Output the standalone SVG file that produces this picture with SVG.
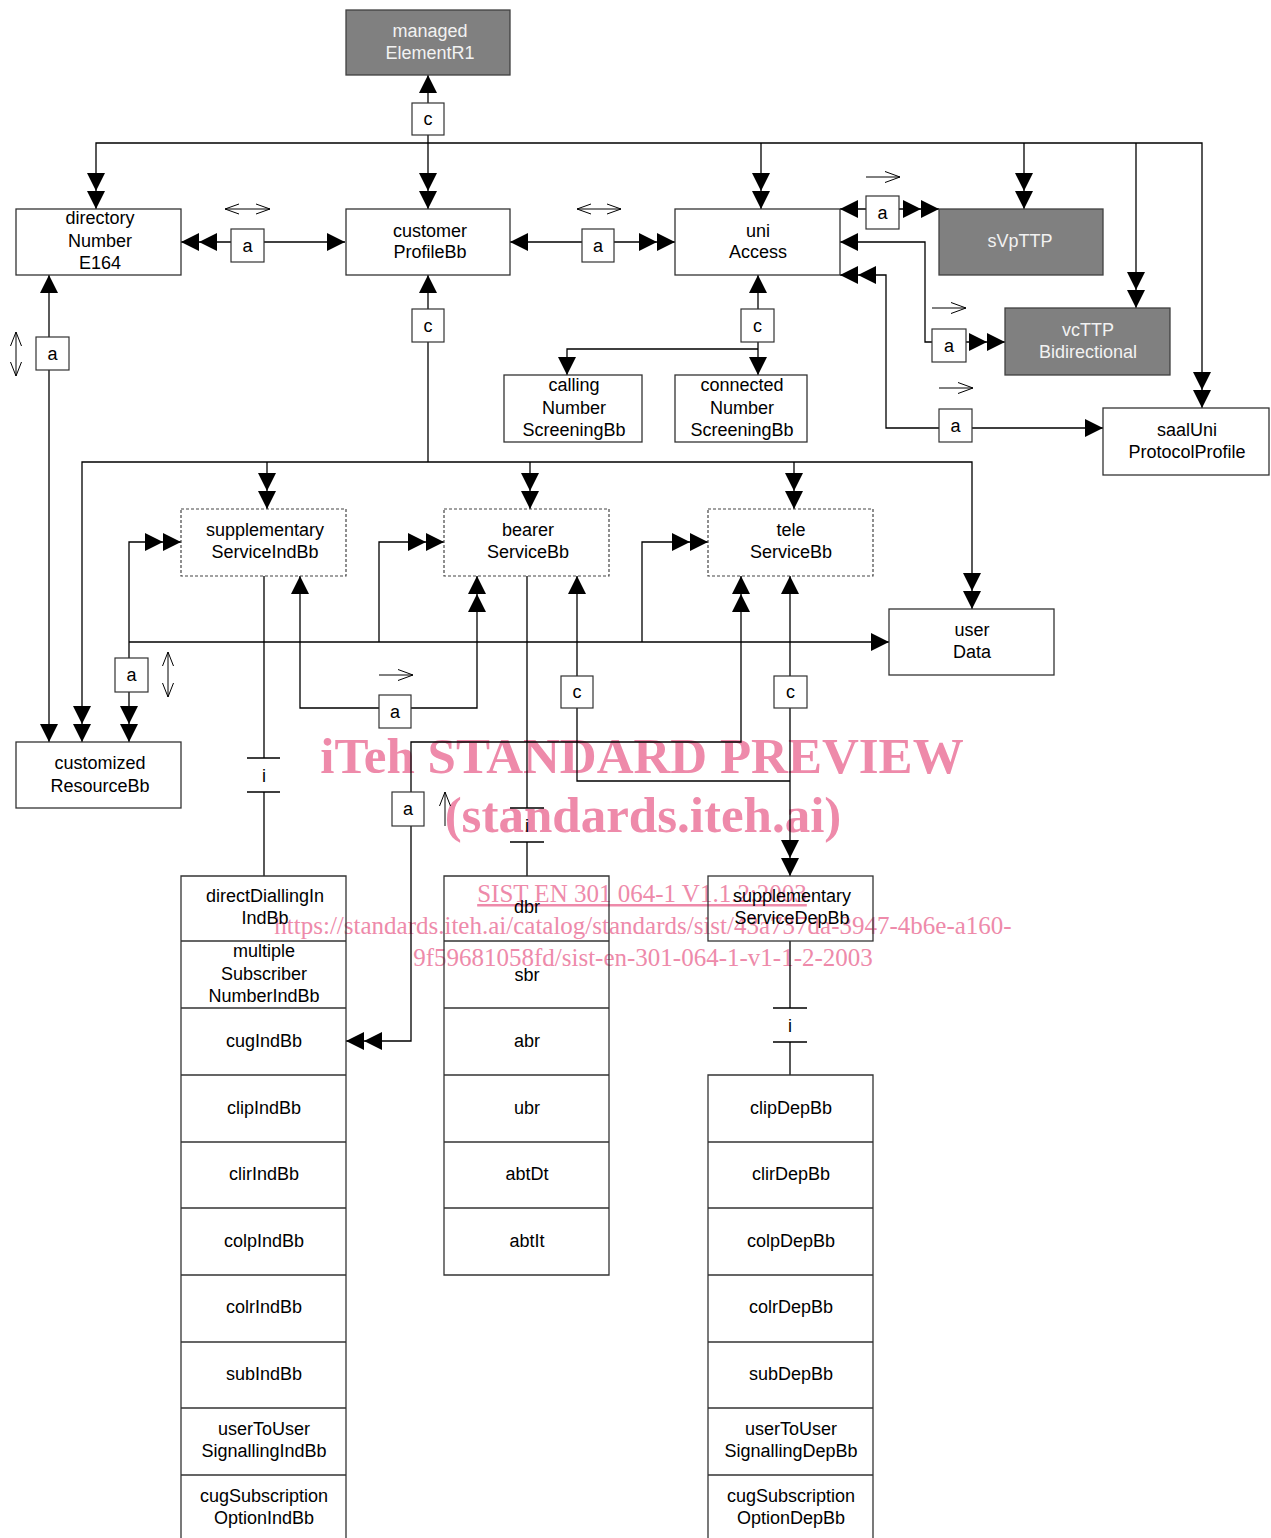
<svg xmlns="http://www.w3.org/2000/svg" width="1271" height="1538" viewBox="0 0 1271 1538">
<style>
.t{font-family:"Liberation Sans",Arial,sans-serif;font-size:18px;text-anchor:middle;fill:#000}
.tw{font-family:"Liberation Sans",Arial,sans-serif;font-size:18px;text-anchor:middle;fill:#f2f2f2}
.box{fill:none;stroke:#333;stroke-width:1.3}
.gbox{fill:#808080;stroke:#404040;stroke-width:1.3}
.dbox{fill:none;stroke:#444;stroke-width:1.2;stroke-dasharray:3,2}
.lbl{fill:#fff;stroke:#333;stroke-width:1.2}
.ln{fill:none;stroke:#000;stroke-width:1.3}
.sym{fill:none;stroke:#000;stroke-width:1}
.wm{font-family:"Liberation Serif","Times New Roman",serif;fill:#ee8aaa;text-anchor:middle}
</style>
<defs>
<marker id="s" markerUnits="userSpaceOnUse" markerWidth="18" markerHeight="18" viewBox="0 0 18 18" refX="18" refY="9" orient="auto-start-reverse"><path d="M0,0 L18,9 L0,18 z" fill="#000"/></marker>
<marker id="d" markerUnits="userSpaceOnUse" markerWidth="36" markerHeight="18" viewBox="0 0 36 18" refX="36" refY="9" orient="auto-start-reverse"><path d="M0,0 L18,9 L0,18 z M18,0 L36,9 L18,18 z" fill="#000"/></marker>
</defs>
<rect x="0" y="0" width="1271" height="1538" fill="#fff"/>

<g id="watermark">
<text class="wm" x="642" y="773" font-size="51" font-weight="bold">iTeh STANDARD PREVIEW</text>
<text class="wm" x="643" y="832" font-size="51" font-weight="bold">(standards.iteh.ai)</text>
<text class="wm" x="642" y="902" font-size="25" text-decoration="underline">SIST EN 301 064-1 V1.1.2:2003</text>
<text class="wm" x="643" y="934" font-size="25">https://standards.iteh.ai/catalog/standards/sist/43a737da-3947-4b6e-a160-</text>
<text class="wm" x="643" y="966" font-size="25">9f59681058fd/sist-en-301-064-1-v1-1-2-2003</text>
</g>

<g id="connectors">
<path class="ln" d="M428,143 V75" marker-end="url(#s)"/>
<path class="ln" d="M428,143 V209" marker-end="url(#d)"/>
<path class="ln" d="M96,209 V143 H1202 V408" marker-start="url(#d)" marker-end="url(#d)"/>
<path class="ln" d="M761,143 V209" marker-end="url(#d)"/>
<path class="ln" d="M1024,143 V209" marker-end="url(#d)"/>
<path class="ln" d="M1136,143 V308" marker-end="url(#d)"/>
<path class="ln" d="M345,242 H181" marker-start="url(#s)" marker-end="url(#d)"/>
<path class="ln" d="M510,242 H675" marker-start="url(#s)" marker-end="url(#d)"/>
<path class="ln" d="M840,209 H939" marker-start="url(#s)" marker-end="url(#d)"/>
<path class="ln" d="M840,242 H925 V342 H1005" marker-start="url(#s)" marker-end="url(#d)"/>
<path class="ln" d="M840,275 H886 V428 H1103" marker-start="url(#d)" marker-end="url(#s)"/>
<path class="ln" d="M758,349 V275" marker-end="url(#s)"/>
<path class="ln" d="M758,349 V375" marker-end="url(#s)"/>
<path class="ln" d="M758,349 H567 V375" marker-end="url(#s)"/>
<path class="ln" d="M49,275 V742" marker-start="url(#s)" marker-end="url(#s)"/>
<path class="ln" d="M428,462 V275" marker-end="url(#s)"/>
<path class="ln" d="M82,742 V462 H972 V609" marker-start="url(#d)" marker-end="url(#d)"/>
<path class="ln" d="M267,462 V509" marker-end="url(#d)"/>
<path class="ln" d="M530,462 V509" marker-end="url(#d)"/>
<path class="ln" d="M794,462 V509" marker-end="url(#d)"/>
<path class="ln" d="M129,742 V542 H181" marker-start="url(#d)" marker-end="url(#d)"/>
<path class="ln" d="M129,642 H889" marker-end="url(#s)"/>
<path class="ln" d="M379,642 V542 H444" marker-end="url(#d)"/>
<path class="ln" d="M642,642 V542 H708" marker-end="url(#d)"/>
<path class="ln" d="M300,576 V708 H477 V576" marker-start="url(#s)" marker-end="url(#d)"/>
<path class="ln" d="M577,576 V781 H790" marker-start="url(#s)"/>
<path class="ln" d="M790,576 V876" marker-start="url(#s)" marker-end="url(#d)"/>
<path class="ln" d="M741,576 V742 H411 V1041 H346" marker-start="url(#d)" marker-end="url(#d)"/>
<path class="ln" d="M264,576 V758 M247,758 H280 M247,792 H280 M264,792 V876"/>
<path class="ln" d="M527,576 V808 M510,808 H544 M510,842 H544 M527,842 V876"/>
<path class="ln" d="M790,941 V1008 M773,1008 H807 M773,1042 H807 M790,1042 V1075"/>
<text class="t" x="264" y="782">i</text>
<text class="t" x="527" y="832">i</text>
<text class="t" x="790" y="1032">i</text>
<g id="labels">
<rect class="lbl" x="412" y="103" width="32" height="32"/><text class="t" x="428" y="125">c</text>
<rect class="lbl" x="231" y="229" width="33" height="33"/><text class="t" x="247.5" y="252">a</text>
<rect class="lbl" x="582" y="229" width="32" height="33"/><text class="t" x="598" y="252">a</text>
<rect class="lbl" x="866" y="196" width="33" height="33"/><text class="t" x="882.5" y="219">a</text>
<rect class="lbl" x="932" y="329" width="34" height="33"/><text class="t" x="949" y="352">a</text>
<rect class="lbl" x="939" y="409" width="33" height="33"/><text class="t" x="955.5" y="432">a</text>
<rect class="lbl" x="741" y="309" width="33" height="33"/><text class="t" x="757.5" y="332">c</text>
<rect class="lbl" x="412" y="309" width="32" height="33"/><text class="t" x="428" y="332">c</text>
<rect class="lbl" x="36" y="337" width="33" height="33"/><text class="t" x="52.5" y="360">a</text>
<rect class="lbl" x="115" y="658" width="33" height="34"/><text class="t" x="131.5" y="681">a</text>
<rect class="lbl" x="379" y="695" width="32" height="33"/><text class="t" x="395" y="718">a</text>
<rect class="lbl" x="561" y="676" width="32" height="32"/><text class="t" x="577" y="698">c</text>
<rect class="lbl" x="774" y="676" width="33" height="32"/><text class="t" x="790.5" y="698">c</text>
<rect class="lbl" x="392" y="792" width="32" height="34"/><text class="t" x="408" y="815">a</text>
</g>
<g id="direction-marks">
<path class="sym" d="M225,209 H270 M239,204 L225,209 L239,214 M256,204 L270,209 L256,214"/>
<path class="sym" d="M577,209 H621 M591,204 L577,209 L591,214 M607,204 L621,209 L607,214"/>
<path class="sym" d="M866,177 H900 M885,171.5 L900,177 L885,182.5"/>
<path class="sym" d="M932,308 H966 M951,302.5 L966,308 L951,313.5"/>
<path class="sym" d="M939,388 H973 M958,382.5 L973,388 L958,393.5"/>
<path class="sym" d="M379,675 H413 M398,669.5 L413,675 L398,680.5"/>
<path class="sym" d="M16,332 V376 M10.5,346 L16,332 L21.5,346 M10.5,362 L16,376 L21.5,362"/>
<path class="sym" d="M168,652 V697 M162.5,666 L168,652 L173.5,666 M162.5,683 L168,697 L173.5,683"/>
<path class="sym" d="M445,792 V826 M439.5,806 L445,792 L450.5,806"/>
</g>
</g>

<g id="managedElementR1"><rect class="gbox" x="346" y="10" width="164" height="65"/><text class="tw" x="430" y="37">managed</text><text class="tw" x="430" y="59">ElementR1</text></g>
<g id="directoryNumberE164"><rect class="box" x="16" y="209" width="165" height="66"/><text class="t" x="100" y="224">directory</text><text class="t" x="100" y="247">Number</text><text class="t" x="100" y="269">E164</text></g>
<g id="customerProfileBb"><rect class="box" x="346" y="209" width="164" height="66"/><text class="t" x="430" y="237">customer</text><text class="t" x="430" y="258">ProfileBb</text></g>
<g id="uniAccess"><rect class="box" x="675" y="209" width="165" height="66"/><text class="t" x="758" y="237">uni</text><text class="t" x="758" y="258">Access</text></g>
<g id="sVpTTP"><rect class="gbox" x="939" y="209" width="164" height="66"/><text class="tw" x="1020" y="247">sVpTTP</text></g>
<g id="vcTTPBidirectional"><rect class="gbox" x="1005" y="308" width="165" height="67"/><text class="tw" x="1088" y="336">vcTTP</text><text class="tw" x="1088" y="358">Bidirectional</text></g>
<g id="saalUniProtocolProfile"><rect class="box" x="1103" y="408" width="166" height="67"/><text class="t" x="1187" y="436">saalUni</text><text class="t" x="1187" y="458">ProtocolProfile</text></g>
<g id="callingNumberScreeningBb"><rect class="box" x="504" y="375" width="138" height="67"/><text class="t" x="574" y="391">calling</text><text class="t" x="574" y="414">Number</text><text class="t" x="574" y="436">ScreeningBb</text></g>
<g id="connectedNumberScreeningBb"><rect class="box" x="675" y="375" width="132" height="67"/><text class="t" x="742" y="391">connected</text><text class="t" x="742" y="414">Number</text><text class="t" x="742" y="436">ScreeningBb</text></g>
<g id="supplementaryServiceIndBb"><rect class="dbox" x="181" y="509" width="165" height="67"/><text class="t" x="265" y="536">supplementary</text><text class="t" x="265" y="558">ServiceIndBb</text></g>
<g id="bearerServiceBb"><rect class="dbox" x="444" y="509" width="165" height="67"/><text class="t" x="528" y="536">bearer</text><text class="t" x="528" y="558">ServiceBb</text></g>
<g id="teleServiceBb"><rect class="dbox" x="708" y="509" width="165" height="67"/><text class="t" x="791" y="536">tele</text><text class="t" x="791" y="558">ServiceBb</text></g>
<g id="userData"><rect class="box" x="889" y="609" width="165" height="66"/><text class="t" x="972" y="636">user</text><text class="t" x="972" y="658">Data</text></g>
<g id="customizedResourceBb"><rect class="box" x="16" y="742" width="165" height="66"/><text class="t" x="100" y="769">customized</text><text class="t" x="100" y="792">ResourceBb</text></g>

<g id="indColumn">
<path class="box" d="M181,1542 V876 H346 V1542 M181,941 H346 M181,1008 H346 M181,1075 H346 M181,1142 H346 M181,1208 H346 M181,1275 H346 M181,1342 H346 M181,1408 H346 M181,1475 H346"/>
<text class="t" x="265" y="902">directDiallingIn</text><text class="t" x="265" y="924">IndBb</text>
<text class="t" x="264" y="957">multiple</text><text class="t" x="264" y="980">Subscriber</text><text class="t" x="264" y="1002">NumberIndBb</text>
<text class="t" x="264" y="1047">cugIndBb</text>
<text class="t" x="264" y="1114">clipIndBb</text>
<text class="t" x="264" y="1180">clirIndBb</text>
<text class="t" x="264" y="1247">colpIndBb</text>
<text class="t" x="264" y="1313">colrIndBb</text>
<text class="t" x="264" y="1380">subIndBb</text>
<text class="t" x="264" y="1435">userToUser</text><text class="t" x="264" y="1457">SignallingIndBb</text>
<text class="t" x="264" y="1502">cugSubscription</text><text class="t" x="264" y="1524">OptionIndBb</text>
</g>
<g id="bearerColumn">
<path class="box" d="M444,876 H609 V1275 H444 Z M444,941 H609 M444,1008 H609 M444,1075 H609 M444,1142 H609 M444,1208 H609"/>
<text class="t" x="527" y="913">dbr</text>
<text class="t" x="527" y="981">sbr</text>
<text class="t" x="527" y="1047">abr</text>
<text class="t" x="527" y="1114">ubr</text>
<text class="t" x="527" y="1180">abtDt</text>
<text class="t" x="527" y="1247">abtIt</text>
</g>
<g id="supplementaryServiceDepBb"><rect class="box" x="708" y="876" width="165" height="65"/><text class="t" x="792" y="902">supplementary</text><text class="t" x="792" y="924">ServiceDepBb</text></g>
<g id="depColumn">
<path class="box" d="M708,1542 V1075 H873 V1542 M708,1142 H873 M708,1208 H873 M708,1275 H873 M708,1342 H873 M708,1408 H873 M708,1475 H873"/>
<text class="t" x="791" y="1114">clipDepBb</text>
<text class="t" x="791" y="1180">clirDepBb</text>
<text class="t" x="791" y="1247">colpDepBb</text>
<text class="t" x="791" y="1313">colrDepBb</text>
<text class="t" x="791" y="1380">subDepBb</text>
<text class="t" x="791" y="1435">userToUser</text><text class="t" x="791" y="1457">SignallingDepBb</text>
<text class="t" x="791" y="1502">cugSubscription</text><text class="t" x="791" y="1524">OptionDepBb</text>
</g>
</svg>
